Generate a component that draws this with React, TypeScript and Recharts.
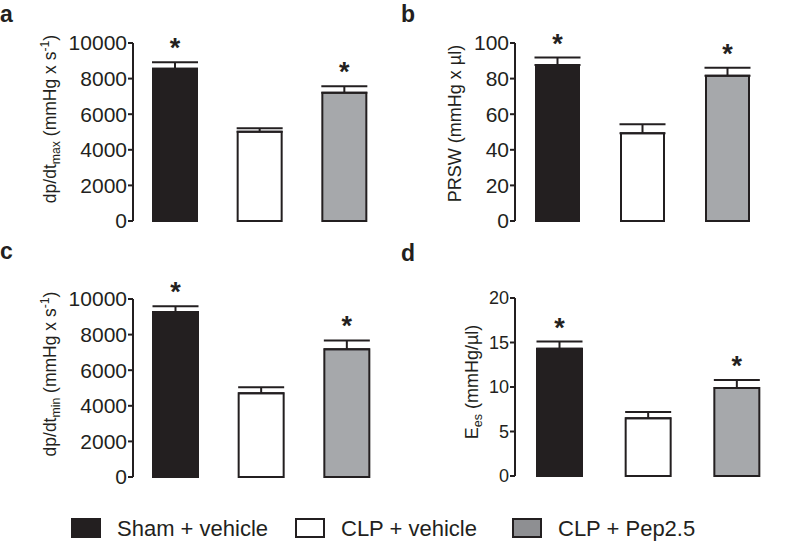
import React from "react";
import { BarChart, Bar, XAxis, YAxis, ErrorBar, Cell, LabelList, Label } from "recharts";

// groups and colours
const groups = ["Sham + vehicle", "CLP + vehicle", "CLP + Pep2.5"];
const barFills = ["#231f20", "#ffffff", "#a6a8ab"];
const legendFills = ["#231f20", "#ffffff", "#8e8f92"];
const significant = [true, false, true];

// a: dp/dt max
const dpdtMax = [8550, 5020, 7200];
const dpdtMaxErr = [370, 190, 370];
const dpdtTicks = [0, 2000, 4000, 6000, 8000, 10000];

// b: PRSW
const prsw = [87.6, 49.3, 81.6];
const prswErr = [4.2, 5.0, 4.5];
const prswTicks = [0, 20, 40, 60, 80, 100];

// c: dp/dt min
const dpdtMin = [9270, 4700, 7180];
const dpdtMinErr = [320, 340, 490];

// d: Ees
const ees = [14.3, 6.5, 9.9];
const eesErr = [0.8, 0.7, 0.9];
const eesTicks = [0, 5, 10, 15, 20];

const INK = "#231f20";
const FONT = "'Liberation Sans', Arial, Helvetica, sans-serif";

type Seg = { t: string; sub?: boolean; sup?: boolean };

const starContent = (values: number[], errs: number[]) => (props: any) => {
  const { x, y, width, height, index } = props;
  if (!significant[index]) return null;
  const errTop = Number(y) - (Number(height) * errs[index]) / values[index];
  return (
    <text x={Number(x) + Number(width) / 2} y={errTop - 5} textAnchor="middle" fontSize={27}
      fontWeight="bold" fill={INK} fontFamily={FONT}>*</text>
  );
};

function axisTitle(segs: Seg[], lx: number, ly: number, fs: number) {
  return () => {
    const parts: React.ReactNode[] = [];
    let shift = 0;
    segs.forEach((s, i) => {
      const target = s.sub ? 4 : s.sup ? -7 : 0;
      const dy = target - shift;
      shift = target;
      parts.push(
        <tspan key={i} dy={dy} fontSize={s.sub || s.sup ? fs * 0.7 : fs}>{s.t}</tspan>
      );
    });
    return (
      <text x={lx} y={ly} transform={`rotate(-90 ${lx} ${ly})`} textAnchor="middle"
        fill={INK} fontFamily={FONT} fontSize={fs}>{parts}</text>
    );
  };
}

interface PanelProps {
  left: number; top: number; width: number; height: number;
  margin: { top: number; right: number; bottom: number; left: number };
  axisWidth: number;
  values: number[]; errs: number[]; ticks: number[];
  title: Seg[]; titlePos: [number, number]; titleSize: number;
  tickSize: number; barSize: number;
}

function Panel(p: PanelProps) {
  const data = groups.map((g, i) => ({ group: g, value: p.values[i], err: [0, p.errs[i]] }));
  return (
    <div style={{ position: "absolute", left: p.left, top: p.top }}>
      <BarChart width={p.width} height={p.height} data={data} margin={p.margin} barCategoryGap="20%">
        <XAxis dataKey="group" tick={false} tickLine={false} height={0}
          axisLine={{ stroke: INK, strokeWidth: 2 }} />
        <YAxis type="number" width={p.axisWidth} domain={[0, p.ticks[p.ticks.length - 1]]} ticks={p.ticks}
          interval={0} tickSize={5} tickMargin={1}
          tick={{ fill: INK, fontSize: p.tickSize, fontFamily: FONT }}
          tickLine={{ stroke: INK, strokeWidth: 2 }} axisLine={{ stroke: INK, strokeWidth: 2 }}>
          <Label content={axisTitle(p.title, p.titlePos[0], p.titlePos[1], p.titleSize)} />
        </YAxis>
        <Bar dataKey="value" isAnimationActive={false} barSize={p.barSize} stroke={INK} strokeWidth={2}>
          {data.map((d, i) => (
            <Cell key={d.group} fill={barFills[i]} />
          ))}
          <ErrorBar dataKey="err" direction="y" width={23} stroke={INK} strokeWidth={2} />
          <LabelList dataKey="value" content={starContent(p.values, p.errs)} />
        </Bar>
      </BarChart>
    </div>
  );
}

const legendX = [71, 295, 512];
const panelLetters = [
  { t: "a", x: 0, y: 22 },
  { t: "b", x: 401, y: 22 },
  { t: "c", x: 0, y: 259 },
  { t: "d", x: 401, y: 261 },
];

export default function App() {
  return (
    <div style={{ position: "absolute", left: 0, top: 0, width: 787, height: 542, background: "#fff", fontFamily: FONT }}>
      <svg width={787} height={542} style={{ position: "absolute", left: 0, top: 0 }}>
        {panelLetters.map((l) => (
          <text key={l.t} x={l.x} y={l.y} fontSize={23} fontWeight="bold" fill={INK} fontFamily={FONT}>{l.t}</text>
        ))}
        {groups.map((g, i) => (
          <g key={g}>
            <rect x={legendX[i] + 1} y={519} width={28} height={18} fill={legendFills[i]} stroke={INK} strokeWidth={2} />
            <text x={legendX[i] + 46} y={536} fontSize={22} fill={INK} fontFamily={FONT}>{g}</text>
          </g>
        ))}
      </svg>
      <Panel left={0} top={0} width={400} height={240}
        margin={{ top: 43, right: 13, bottom: 19, left: 0 }} axisWidth={133}
        values={dpdtMax} errs={dpdtMaxErr} ticks={dpdtTicks}
        title={[{ t: "dp/dt" }, { t: "max", sub: true }, { t: " (mmHg x s" }, { t: "-1", sup: true }, { t: ")" }]}
        titlePos={[55.5, 119]} titleSize={17.5} tickSize={21} barSize={44} />
      <Panel left={390} top={0} width={397} height={240}
        margin={{ top: 43, right: 17, bottom: 19, left: 0 }} axisWidth={125}
        values={prsw} errs={prswErr} ticks={prswTicks}
        title={[{ t: "PRSW (mmHg x µl)" }]}
        titlePos={[70.5, 123.5]} titleSize={18} tickSize={21} barSize={43} />
      <Panel left={0} top={250} width={400} height={240}
        margin={{ top: 49, right: 10, bottom: 13, left: 0 }} axisWidth={133}
        values={dpdtMin} errs={dpdtMinErr} ticks={dpdtTicks}
        title={[{ t: "dp/dt" }, { t: "min", sub: true }, { t: " (mmHg x s" }, { t: "-1", sup: true }, { t: ")" }]}
        titlePos={[55.5, 124]} titleSize={17.5} tickSize={21} barSize={45} />
      <Panel left={390} top={250} width={397} height={240}
        margin={{ top: 48, right: 6, bottom: 14, left: 0 }} axisWidth={125}
        values={ees} errs={eesErr} ticks={eesTicks}
        title={[{ t: "E" }, { t: "es", sub: true }, { t: " (mmHg/µl)" }]}
        titlePos={[87.5, 132]} titleSize={18} tickSize={18} barSize={45} />
    </div>
  );
}
